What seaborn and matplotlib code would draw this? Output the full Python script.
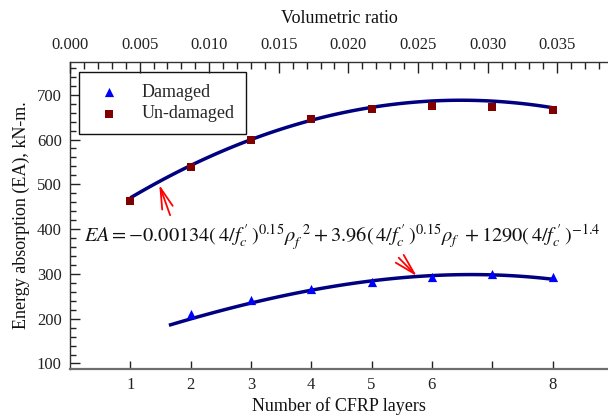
import matplotlib
matplotlib.use('Agg')
import matplotlib.pyplot as plt
import seaborn as sns
from matplotlib.ticker import MultipleLocator, FormatStrFormatter

# ---- data ----
layers = [1, 2, 3, 4, 5, 6, 7, 8]
undamaged_ea = [463, 539, 600, 645, 668, 675, 672, 666]
damaged_layers = [2, 3, 4, 5, 6, 7, 8]
damaged_ea = [211, 242, 267, 282, 293, 299, 292]

# fitted curves
fit_undamaged_x = [1, 1.5, 2, 2.5, 3, 3.5, 4, 4.5, 5, 5.5, 6, 6.5, 7, 7.5, 8]
fit_undamaged_y = [470, 507, 542, 573, 600, 623, 643, 659, 672, 680, 686, 688, 686, 680, 671]
fit_damaged_x = [1.64, 2, 2.5, 3, 3.5, 4, 4.5, 5, 5.5, 6, 6.5, 7, 7.5, 8]
fit_damaged_y = [184, 200, 219, 236, 250, 263, 274, 284, 291, 296, 299, 299, 295, 287]

x_tick_labels = ['1', '2', '3', '4', '5', '6', '', '8']
series_names = ['Damaged', 'Un-damaged']

sns.set_style('ticks')
plt.rcParams['font.family'] = ['Liberation Serif', 'DejaVu Serif']
plt.rcParams['mathtext.fontset'] = 'stix'

fig = plt.figure(figsize=(6.08, 4.18), dpi=100)
ax = fig.add_axes([70 / 608, (418 - 369) / 418, 538 / 608, (369 - 61.7) / 418])

line_col = '#000080'
for fx, fy in [(fit_undamaged_x, fit_undamaged_y), (fit_damaged_x, fit_damaged_y)]:
    sns.regplot(x=fx, y=fy, ax=ax, order=3, ci=None, scatter=False, truncate=True,
                line_kws=dict(color=line_col, lw=2.5, zorder=2, solid_capstyle='butt'))
sns.scatterplot(x=damaged_layers, y=damaged_ea, ax=ax, marker='^', s=44,
                color='#0000FF', linewidth=0, label=series_names[0], zorder=3)
sns.scatterplot(x=layers, y=undamaged_ea, ax=ax, marker='s', s=32,
                color='#800000', linewidth=0, label=series_names[1], zorder=3)

ax.set_xlim(0, 8.92)
ax.set_ylim(87.7, 773.7)
ax.set_xticks(layers)
ax.set_xticklabels(x_tick_labels)
ax.yaxis.set_major_locator(MultipleLocator(100))
ax.yaxis.set_minor_locator(MultipleLocator(20))

ax.tick_params(axis='x', which='major', direction='in', length=6, width=1,
               top=False, labelsize=12, pad=6, colors='#222222')
ax.tick_params(axis='y', which='major', direction='in', length=7, width=1,
               right=False, labelsize=12, pad=6, colors='#222222')
ax.tick_params(axis='y', which='minor', direction='in', length=4, width=1,
               right=False, colors='#222222')

ax.set_xlabel('Number of CFRP layers', fontsize=13, labelpad=3, color='#111111')
ax.set_ylabel('Energy absorption (EA), kN-m.', fontsize=13, labelpad=5, color='#111111')

ax.spines['right'].set_visible(False)
ax.spines['top'].set_visible(False)
ax.spines['bottom'].set_color('#6e6e6e')
ax.spines['bottom'].set_linewidth(1.6)
ax.spines['left'].set_color('#333333')
ax.spines['left'].set_linewidth(1.0)

ax2 = ax.twiny()
ax2.set_xlim(0, 0.03865)
ax2.xaxis.set_major_locator(MultipleLocator(0.005))
ax2.xaxis.set_minor_locator(MultipleLocator(0.001))
ax2.xaxis.set_major_formatter(FormatStrFormatter('%.3f'))
ax2.tick_params(axis='x', which='major', direction='in', length=8, width=1,
                labelsize=12, pad=6, colors='#222222')
ax2.tick_params(axis='x', which='minor', direction='in', length=5, width=1,
                colors='#222222')
ax2.set_xlabel('Volumetric ratio', fontsize=13, labelpad=10, color='#111111')
for s in ['left', 'right', 'bottom']:
    ax2.spines[s].set_visible(False)
ax2.spines['top'].set_color('#333333')
ax2.spines['top'].set_linewidth(1.0)

leg = ax.legend(loc='upper left', bbox_to_anchor=(9 / 538, (369 - 72) / 307.3),
                borderaxespad=0, fontsize=13, frameon=True, fancybox=False,
                edgecolor='#111111', framealpha=1, borderpad=0.65,
                handlelength=2.0, handletextpad=0.8, labelspacing=0.25,
                scatterpoints=1)
leg.get_frame().set_linewidth(1.0)

formula = (r'$EA=-0.00134(\,4/f_c^{\,\prime}\,)^{0.15}\rho_f^{\ \ 2}'
           r'+3.96(\,4/f_c^{\,\prime}\,)^{0.15}\rho_f\ +1290(\,4/f_c^{\,\prime}\,)^{-1.4}$')
ax.text(0.23, 382, formula, fontsize=14.7, ha='left', va='center', color='#111111',
        zorder=5)

arrow_kw = dict(arrowstyle='->,head_length=1.5,head_width=0.4', color='red', lw=1.3,
                shrinkA=0, shrinkB=0)
ax.annotate('', xy=(1.48, 499), xytext=(1.66, 431), arrowprops=arrow_kw)
ax.annotate('', xy=(5.75, 295), xytext=(5.45, 336), arrowprops=arrow_kw)

fig.savefig('out.png', dpi=100)
